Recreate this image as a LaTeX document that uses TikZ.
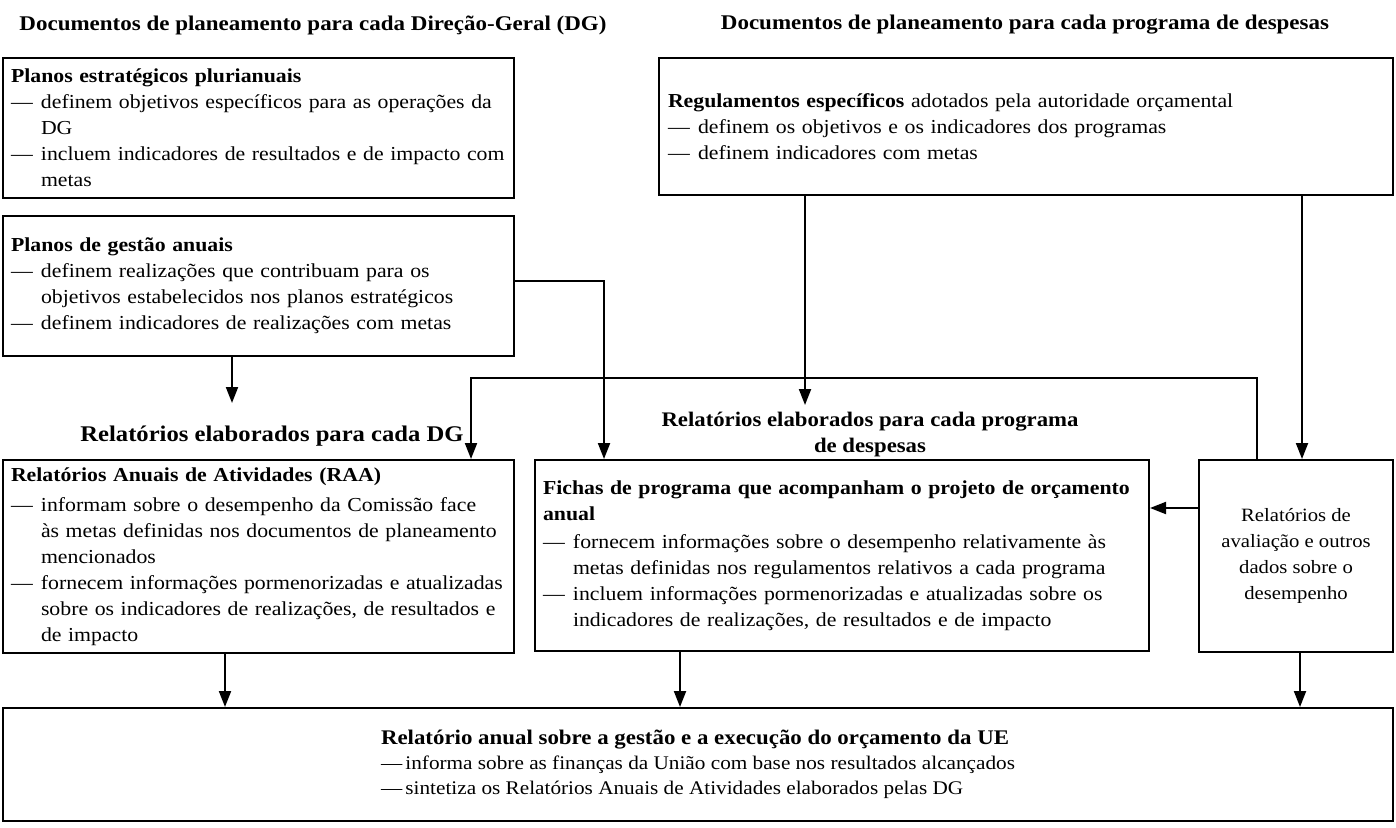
\documentclass[tikz,border=0pt]{standalone}
\usepackage{fontspec}
\setmainfont[FakeStretch=1.1]{Liberation Serif}
\usetikzlibrary{arrows.meta,calc}
\newcommand{\myfs}{\fontsize{19.8}{26}\selectfont}
\newcommand{\mydash}{\makebox[30pt][l]{—}}
\newcommand{\myind}{\hspace*{30pt}}
\begin{document}
\begin{tikzpicture}[x=1pt,y=-1pt,
  box/.style={draw,line width=2pt,anchor=north west,inner xsep=8pt,inner ysep=0pt,align=left,font=\myfs},
  arr/.style={line width=2pt,-{Triangle[length=16pt,width=12pt]}},
  head/.style={font=\fontsize{20.9}{26}\selectfont\bfseries,align=center,inner sep=0pt}]
\useasboundingbox (0,0) rectangle (1396,827);
\fill[white] (0,0) rectangle (1396,827);

\node[head] (T1) at (313,25) {Documentos de planeamento para cada Direção-Geral (DG)};
\node[head] (T2) at (1025,25) {Documentos de planeamento para cada programa de despesas};

\node[box,minimum width=511pt,minimum height=140pt,text width=495pt] (A) at (2,57) {%
\mbox{\textbf{Planos estratégicos plurianuais}}\\
\mbox{\mydash definem objetivos específicos para as operações da}\\
\mbox{\myind DG}\\
\mbox{\mydash incluem indicadores de resultados e de impacto com}\\
\mbox{\myind metas}};

\node[box,minimum width=511pt,minimum height=140pt,text width=495pt] (B) at (2,215) {%
\mbox{\textbf{Planos de gestão anuais}}\\
\mbox{\mydash definem realizações que contribuam para os}\\
\mbox{\myind objetivos estabelecidos nos planos estratégicos}\\
\mbox{\mydash definem indicadores de realizações com metas}};

\node[box,minimum width=734pt,minimum height=137pt,text width=716pt,inner xsep=9pt] (C) at (658,57) {%
\mbox{\textbf{Regulamentos específicos} adotados pela autoridade orçamental}\\
\mbox{\mydash definem os objetivos e os indicadores dos programas}\\
\mbox{\mydash definem indicadores com metas}};

\node[head,font=\fontsize{22.4}{26}\selectfont\bfseries] (hDG) at (272,436) {Relatórios elaborados para cada DG};
\node[head,font=\fontsize{20.7}{26}\selectfont\bfseries] (hProg) at (870,435) {Relatórios elaborados para cada programa\\de despesas};

\node[box,minimum width=511pt,minimum height=193pt,text width=495pt] (D) at (2,459) {%
\mbox{\textbf{Relatórios Anuais de Atividades (RAA)}}\\[4pt]
\mbox{\mydash informam sobre o desempenho da Comissão face}\\
\mbox{\myind às metas definidas nos documentos de planeamento}\\
\mbox{\myind mencionados}\\
\mbox{\mydash fornecem informações pormenorizadas e atualizadas}\\
\mbox{\myind sobre os indicadores de realizações, de resultados e}\\
\mbox{\myind de impacto}};

\node[box,minimum width=614pt,minimum height=191pt,text width=598pt] (E) at (534,459) {%
\mbox{\textbf{Fichas de programa que acompanham o projeto de orçamento}}\\
\mbox{\textbf{anual}}\\[2pt]
\mbox{\mydash fornecem informações sobre o desempenho relativamente às}\\
\mbox{\myind metas definidas nos regulamentos relativos a cada programa}\\
\mbox{\mydash incluem informações pormenorizadas e atualizadas sobre os}\\
\mbox{\myind indicadores de realizações, de resultados e de impacto}};

\node[box,minimum width=194pt,minimum height=192pt,align=center,inner xsep=4pt,font=\fontsize{18.8}{26}\selectfont] (F) at (1198,459) {%
Relatórios de\\avaliação e outros\\dados sobre o\\desempenho};

\node[box,minimum width=1390pt,minimum height=113pt,font=\fontsize{19.3}{25}\selectfont] (G) at (2,707) {%
{\fontsize{20.8}{25}\selectfont\textbf{Relatório anual sobre a gestão e a execução do orçamento da UE}}\\
—\,informa sobre as finanças da União com base nos resultados alcançados\\
—\,sintetiza os Relatórios Anuais de Atividades elaborados pelas DG};

\coordinate (tipDG) at (232,403);
\coordinate (tipProg) at (805,405);

% connectors
\draw[arr] ([xshift=230pt]B.south west) -- (tipDG);
\draw[arr] ([yshift=5pt]B.east) -| ([xshift=70pt]E.north west);
\draw[arr] ([xshift=147pt]C.south west) -- (tipProg);
\draw[arr] ([xshift=644pt]C.south west) -- ([xshift=644pt]C.south west |- F.north);
\draw[arr] ([xshift=59pt]F.north west) -- ++(0,-81) -| ([xshift=469pt]D.north west);
\draw[arr] ([yshift=48pt]F.west) -- ([yshift=48pt]F.west -| E.east);
\draw[arr] ([xshift=223pt]D.south west) -- ([xshift=223pt]D.south west |- G.north);
\draw[arr] ([xshift=146pt]E.south west) -- ([xshift=146pt]E.south west |- G.north);
\draw[arr] ([xshift=102pt]F.south west) -- ([xshift=102pt]F.south west |- G.north);
\end{tikzpicture}
\end{document}
